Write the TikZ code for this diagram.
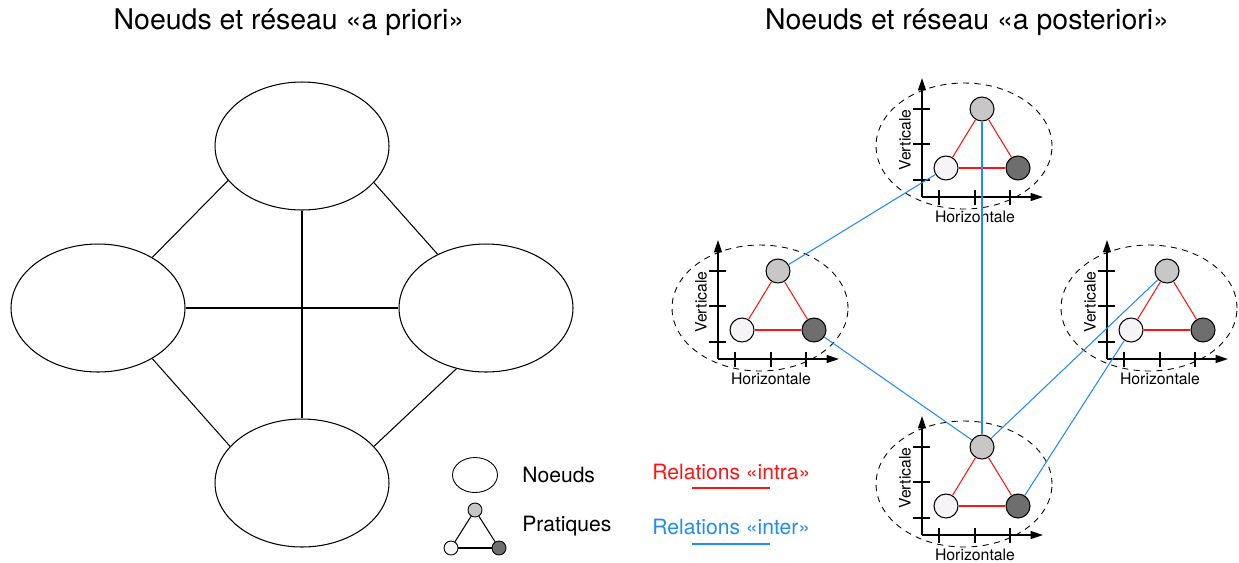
\documentclass[tikz,border=0pt]{standalone}
\usepackage{fontspec}
\setmainfont{TeX Gyre Heros}
\usepackage{tikz}
\usetikzlibrary{positioning, arrows.meta, shapes.geometric}
\definecolor{intrared}{RGB}{250,20,20}
\definecolor{interblue}{RGB}{30,140,250}
\definecolor{pgris}{RGB}{200,198,198}
\definecolor{pblanc}{RGB}{246,244,246}
\definecolor{pnoir}{RGB}{110,110,110}
\tikzset{
  noeud/.style={ellipse, draw, line width=0.6pt, minimum width=3.48cm, minimum height=2.56cm},
  lien/.style={line width=0.6pt},
  prat/.style={circle, draw, line width=0.6pt, minimum size=0.48cm, inner sep=0pt},
  petit/.style={circle, draw, line width=0.5pt, minimum size=0.28cm, inner sep=0pt},
  axe/.style={-{Triangle[length=7pt, width=4.5pt]}, line width=0.8pt},
  graduation/.style={line width=0.8pt},
  groupe/.style={dashed, dash pattern=on 3.5pt off 3pt, line width=0.5pt},
  intra/.style={intrared, line width=0.6pt},
  inter/.style={interblue, line width=0.6pt},
  titre/.style={font=\fontsize{16.2}{19}\selectfont},
  legende/.style={font=\fontsize{12}{14}\selectfont, anchor=west, inner sep=0pt},
  axelbl/.style={font=\fontsize{9}{11}\selectfont, inner sep=0pt},
  pics/pratiques/.style={code={
    \draw[groupe] (42,-51) ellipse [x radius=1.76cm, y radius=1.26cm];
    \draw[axe] (0,0) -- (0,-119);
    \draw[axe] (0,0) -- (121,0);
    \foreach \t in {17,53,88} {
      \draw[graduation] (\t,-7) -- (\t,8);
      \draw[graduation] (-9,-\t) -- (8,-\t);
    }
    \node[prat, fill=pgris]  (-g) at (60,-88) {};
    \node[prat, fill=pblanc] (-w) at (24,-29) {};
    \node[prat, fill=pnoir]  (-d) at (96,-29) {};
    \draw[intra] (-g) -- (-w);
    \draw[intra] (-w) -- (-d);
    \draw[intra] (-d) -- (-g);
    \node[axelbl] (-h) at (53,20) {Horizontale};
    \node[axelbl, rotate=90] (-v) at (-17,-57) {Verticale};
  }},
}

\begin{document}
\begin{tikzpicture}[x=0.02cm, y=-0.02cm]
  \useasboundingbox (0,0) rectangle (1239,562);

  % reseau a priori
  \node[titre] (t1) at (289,22) {Noeuds et réseau «a priori»};
  \node[noeud] (nh) at (302,146) {};
  \node[noeud] (ng) at (98,308) {};
  \node[noeud] (nd) at (486,308) {};
  \node[noeud] (nb) at (302,483) {};
  \draw[lien] (nh.205) -- (ng.43);
  \draw[lien] (nh.333) -- (nd.132);
  \draw[lien] (nb.153) -- (ng.317);
  \draw[lien] (nb.27) -- (nd.244);
  \draw[lien] (ng) -- (nd);
  \draw[lien] (nh) -- (nb);

  % reseau a posteriori
  \node[titre] (t2) at (967,22) {Noeuds et réseau «a posteriori»};
  \pic (ph) at (922,197) {pratiques};
  \pic (pg) at (718,359) {pratiques};
  \pic (pd) at (1107,359) {pratiques};
  \pic (pb) at (922,535) {pratiques};
  \draw[inter] (ph-w) -- (pg-g);
  \draw[inter] (ph-g) -- (pb-g);
  \draw[inter] (pg-d) -- (pb-g);
  \draw[inter] (pd-g) -- (pb-g);
  \draw[inter] (pd-w) -- (pb-d);

  % legende
  \node[ellipse, draw, line width=0.5pt, minimum width=0.9cm, minimum height=0.7cm] (lnoeud) at (475,475) {};
  \node[legende] (lnoeudtxt) at (522,475) {Noeuds};
  \node[petit, fill=pgris]  (lg) at (475,510) {};
  \node[petit, fill=pblanc] (lw) at (451,548) {};
  \node[petit, fill=pnoir]  (ld) at (499,548) {};
  \draw[lien] (lg) -- (lw);
  \draw[lien] (lw) -- (ld);
  \draw[lien] (ld) -- (lg);
  \node[legende] (lpratxt) at (522,526) {Pratiques};
  \node[legende, text=intrared] (lintra) at (652,472) {Relations «intra»};
  \coordinate (lintra1) at (692,488);
  \coordinate (lintra2) at (770,488);
  \draw[intrared, line width=1.2pt] (lintra1) -- (lintra2);
  \node[legende, text=interblue] (linter) at (652,527) {Relations «inter»};
  \coordinate (linter1) at (692,544);
  \coordinate (linter2) at (770,544);
  \draw[interblue, line width=1.2pt] (linter1) -- (linter2);
\end{tikzpicture}
\end{document}
